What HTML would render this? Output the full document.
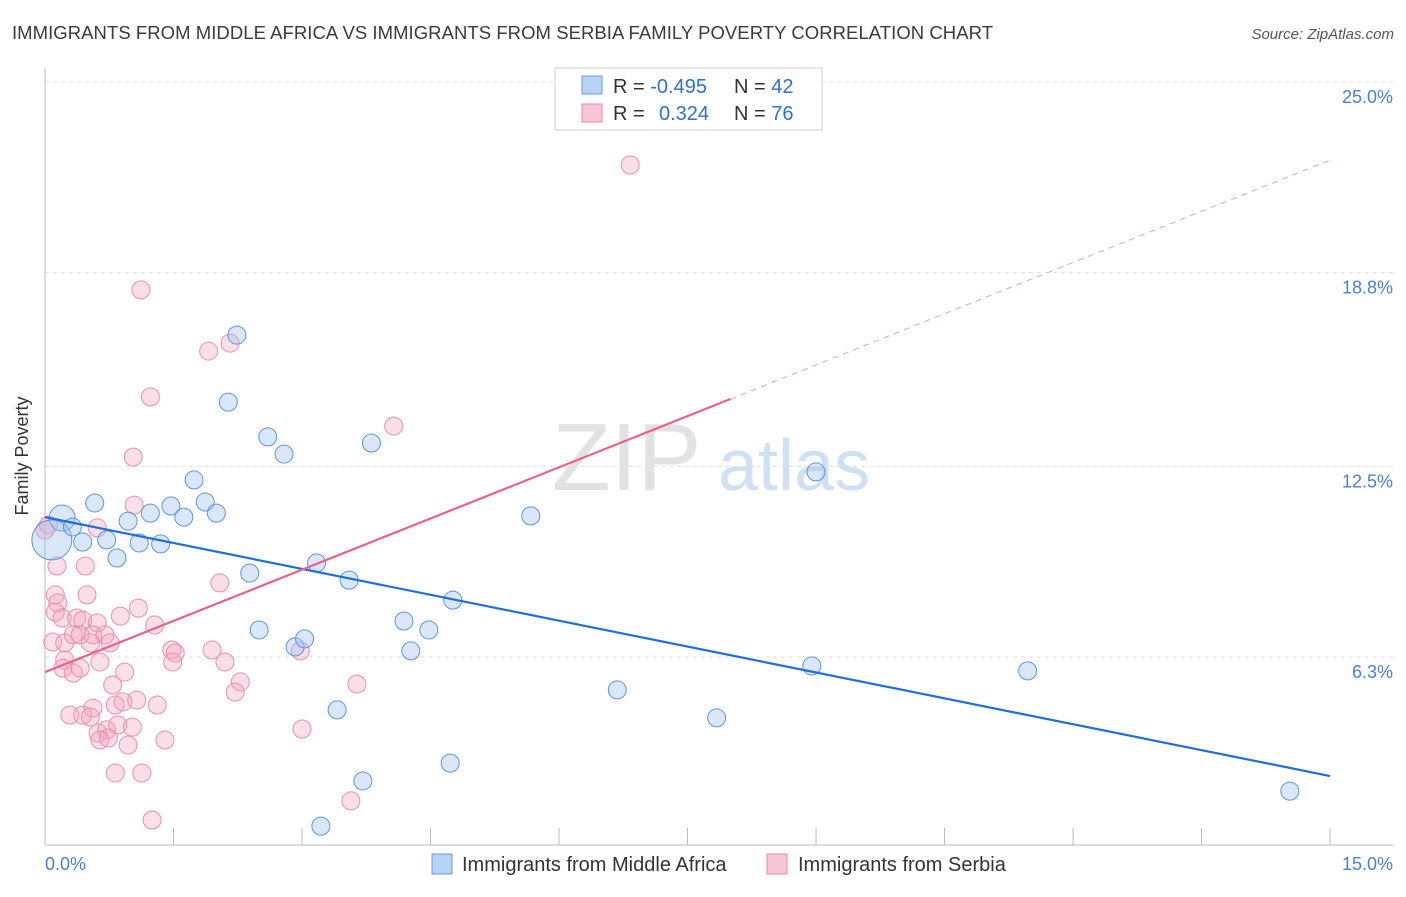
<!DOCTYPE html>
<html><head><meta charset="utf-8"><style>
body{margin:0;background:#fff;font-family:"Liberation Sans",sans-serif;}
svg text{font-family:"Liberation Sans",sans-serif;}
</style></head><body>
<svg width="1406" height="892" xmlns="http://www.w3.org/2000/svg">
<text x="12" y="39" font-size="18.5" fill="#3a3a3a" textLength="981">IMMIGRANTS FROM MIDDLE AFRICA VS IMMIGRANTS FROM SERBIA FAMILY POVERTY CORRELATION CHART</text>
<text x="1394" y="39" font-size="15" fill="#555" font-style="italic" text-anchor="end">Source: ZipAtlas.com</text>
<g>
<text x="552" y="490" font-size="96" fill="#e2e2e2" font-family="Liberation Serif,serif">ZIP</text>
<text x="718" y="490" font-size="72" fill="#cfe0f5">atlas</text>
</g>
<g id="grid"></g>
<line x1="45" y1="68" x2="45" y2="845" stroke="#bbb"/>
<line x1="45" y1="845" x2="1393" y2="845" stroke="#bbb"/>
<g id="xticks"></g>
<text x="28" y="456" font-size="18" fill="#333" text-anchor="middle" transform="rotate(-90 28 456)">Family Poverty</text>
<text x="45" y="870" font-size="18" fill="#4a7fd4">0.0%</text>
<text x="1393" y="870" font-size="18" fill="#4a7fd4" text-anchor="end">15.0%</text>
<g id="pts"></g>
<g id="lines"></g>
<g>
<rect x="555" y="68" width="267" height="62" fill="#fff" stroke="#ccc"/>
<rect x="582" y="76" width="20" height="18" fill="#b8d2f4" stroke="#6a9be0"/>
<rect x="582" y="104" width="20" height="18" fill="#f9c6d6" stroke="#e88aa8"/>
<text x="613" y="93" font-size="20" fill="#333">R = <tspan fill="#2f6fd0">-0.495</tspan><tspan x="734">N = </tspan><tspan fill="#2f6fd0">42</tspan></text>
<text x="613" y="120" font-size="20" fill="#333">R = <tspan x="659" fill="#2f6fd0">0.324</tspan><tspan x="734">N = </tspan><tspan fill="#2f6fd0">76</tspan></text>
</g>
<g>
<rect x="432" y="854" width="20" height="20" fill="#b8d2f4" stroke="#6a9be0"/>
<text x="462" y="871" font-size="20" fill="#333">Immigrants from Middle Africa</text>
<rect x="767" y="854" width="20" height="20" fill="#f9c6d6" stroke="#e88aa8"/>
<text x="798" y="871" font-size="20" fill="#333">Immigrants from Serbia</text>
</g>
</svg>
<script>
const yTicks=[25.0,18.8,12.5,6.3];
const yTickLabels=["25.0%","18.8%","12.5%","6.3%"];
const blueX=[0.20,0.08,0.32,0.58,0.44,0.72,0.84,0.97,1.10,1.23,1.35,1.47,1.62,1.74,1.87,2.00,2.14,2.24,2.39,2.50,2.60,2.79,2.92,3.03,3.17,3.22,3.41,3.55,3.71,3.81,4.19,4.27,4.48,4.73,4.76,5.67,6.68,7.84,8.95,9.00,11.47,14.53];
const blueY=[10.82,10.11,10.53,11.31,10.04,10.11,9.52,10.72,10.01,10.98,9.98,11.21,10.85,12.06,11.34,10.98,14.59,16.77,9.03,7.18,13.46,12.90,6.63,6.89,9.36,0.80,4.58,8.80,2.27,13.26,7.47,6.50,7.18,2.85,8.15,10.89,5.23,4.32,6.01,12.32,5.85,1.94];
const blueR=[13,20,9,9,9,9,9,9,9,9,9,9,9,9,9,9,9,9,9,9,9,9,9,9,9,9,9,9,9,9,9,9,9,9,9,9,9,9,9,9,9,9];
const pinkX=[0.00,0.04,0.14,0.47,0.61,1.04,2.04,0.12,0.49,0.15,1.09,0.88,0.12,0.20,0.37,0.44,0.61,1.28,0.09,0.23,0.33,0.41,0.56,0.70,0.53,0.76,0.23,0.64,0.93,0.21,0.33,0.41,1.48,1.52,1.49,1.95,2.10,2.28,2.22,0.79,0.82,0.91,1.07,1.31,0.29,0.44,0.56,0.53,0.62,0.72,0.85,1.02,0.64,0.74,0.97,1.40,0.82,1.13,1.25,1.12,1.91,2.16,1.23,1.03,4.07,6.83,3.00,3.64,3.57,2.98];
const pinkY=[10.43,10.59,9.26,9.26,10.50,11.24,8.71,8.32,8.32,8.06,7.89,7.63,7.76,7.57,7.57,7.50,7.41,7.34,6.79,6.76,7.02,7.02,7.02,7.02,6.76,6.76,6.20,6.14,5.81,5.94,5.78,5.94,6.53,6.43,6.14,6.53,6.14,5.49,5.16,5.39,4.74,4.84,4.90,4.74,4.41,4.41,4.64,4.35,3.83,3.93,4.09,4.02,3.60,3.67,3.44,3.60,2.53,2.53,1.00,18.24,16.25,16.51,14.76,12.80,13.81,22.30,3.96,5.42,1.62,6.50];
const blueTrend=[[0,10.85],[15,2.43]];
const pinkTrendSolid=[[0,5.81],[8,14.69]];
const pinkTrendDash=[[8,14.69],[15,22.46]];
const xTickVals=[0,1.5,3,4.5,6,7.5,9,10.5,12,13.5,15];
const NS='http://www.w3.org/2000/svg';
function sx(v){return 45+v*85.67;}
function sy(v){return 82+(25-v)*30.75;}
function mk(t,a,p){const e=document.createElementNS(NS,t);for(const k in a)e.setAttribute(k,a[k]);p.appendChild(e);return e;}
const grid=document.getElementById('grid');
yTicks.forEach((v,i)=>{
 const l=mk('line',{x1:45,x2:1393,y1:sy(v),y2:sy(v),stroke:'#ddd','stroke-dasharray':'4,4'},grid);
 
 
 const t=mk('text',{x:1393,y:sy(v)+21,'font-size':18,fill:'#4a7fd4','text-anchor':'end'},grid);
 t.textContent=yTickLabels[i];
 
 
});
const xt=document.getElementById('xticks');
xTickVals.forEach(v=>{
 const l=mk('line',{x1:sx(v),x2:sx(v),y1:828,y2:845,stroke:'#bbb'},xt);
 
 
});
const pts=document.getElementById('pts');
pinkX.forEach((x,i)=>{
 const c=mk('circle',{cx:sx(x),cy:sy(pinkY[i]),r:9,fill:'rgba(244,163,188,0.35)',stroke:'#e98fac','stroke-width':1},pts);
 
 
});
blueX.forEach((x,i)=>{
 const c=mk('circle',{cx:sx(x),cy:sy(blueY[i]),r:blueR[i],fill:'rgba(160,196,240,0.4)',stroke:'#5d95db','stroke-width':1},pts);
 
 
});
const lines=document.getElementById('lines');
function ln(a,col,w,dash,name){
 const l=mk('line',{x1:sx(a[0][0]),y1:sy(a[0][1]),x2:sx(a[1][0]),y2:sy(a[1][1]),stroke:col,'stroke-width':w},lines);
 if(dash)l.setAttribute('stroke-dasharray',dash);
 
 
}
ln(blueTrend,'#1f6fd6',2.2,null,'trend-middle-africa');
ln(pinkTrendSolid,'#e8608d',2.2,null,'trend-serbia');
ln(pinkTrendDash,'#eba0b8',1,'6,5','trend-serbia-extension');
</script>
</body></html>
